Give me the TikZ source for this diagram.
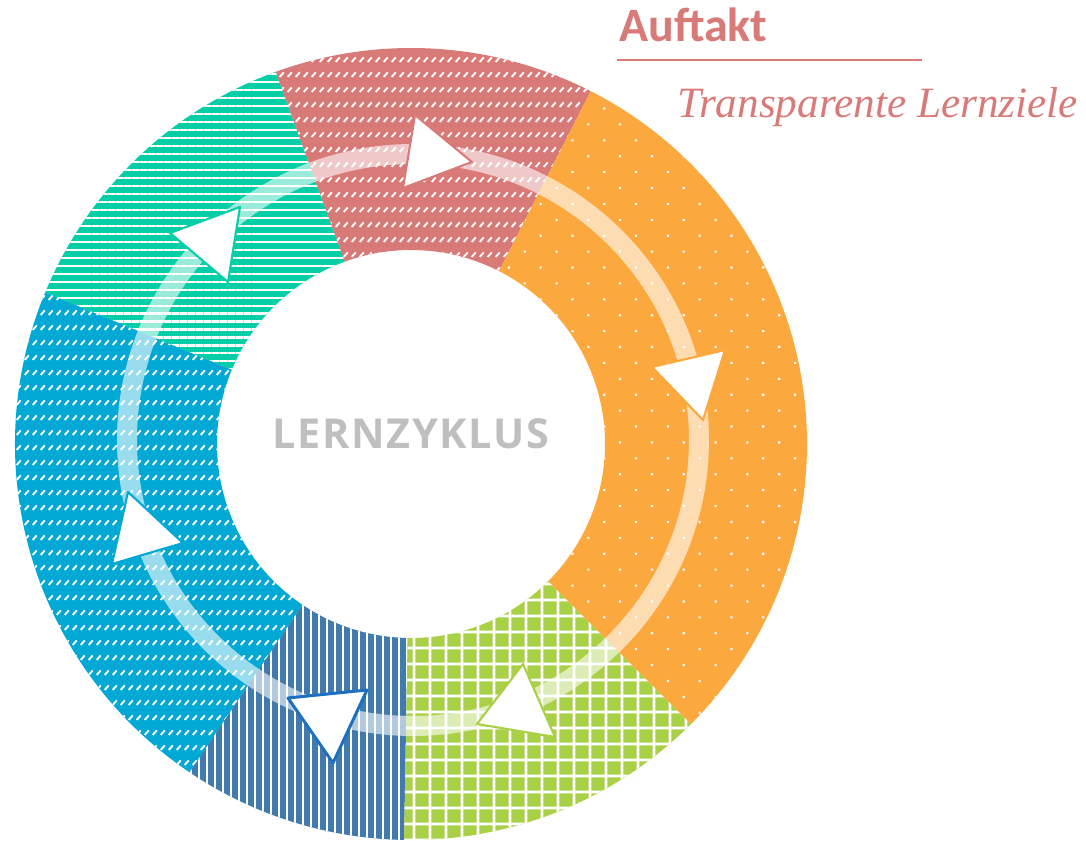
\documentclass[tikz,border=0pt]{standalone}
\usepackage{fontspec}
\setmainfont{Liberation Serif}
\newfontfamily\carlito{Carlito}
\newfontfamily\opensp{Open Sans}[LetterSpace=4]
\usetikzlibrary{patterns.meta,calc}

\definecolor{cRed}{HTML}{D87A78}
\definecolor{cOrange}{HTML}{FBA93F}
\definecolor{cGreen}{HTML}{A9D046}
\definecolor{cDBlue}{HTML}{417BAE}
\definecolor{cLBlue}{HTML}{02A9D4}
\definecolor{cTeal}{HTML}{06CFA7}
\definecolor{cArrowBlue}{HTML}{1F6FC0}
\definecolor{cGray}{HTML}{BFBFBF}

\tikzdeclarepattern{
  name=DDash,
  type=uncolored,
  bounding box={(0pt,0pt) and (4.54pt,8.5pt)},
  tile size={(4.54pt,8.5pt)},
  code={\draw[line width=1.05pt] (0.4pt,0.6pt) -- (2.7pt,3.2pt);}
}

\tikzset{
  seg/.style={preaction={fill=#1}, pattern color=white},
  ring/.style={draw=white, draw opacity=0.6, line width=0.4cm},
  head/.style={fill=white, draw=#1, line width=1.2pt, line join=round},
  lbl/.style={inner sep=0pt}
}

\newcommand\annseg[2]{($(C)+(#1:396)$) arc[start angle=#1, end angle=#2, radius=396]
  -- ($(C)+(#2:194)$) arc[start angle=#2, end angle=#1, radius=194] -- cycle}

\begin{document}
\begin{tikzpicture}[x=0.02cm, y=0.02cm]
\useasboundingbox (0,0) rectangle (1086,840);
\coordinate (C) at (411,396);
\coordinate (RC) at (413,400);

% segments
\path[seg=cRed, pattern=DDash] \annseg{63}{110};
\path[seg=cTeal, pattern={Lines[angle=0, distance=4.54pt, line width=1.2pt]}] \annseg{110}{157.5};
\path[seg=cLBlue, pattern=DDash] \annseg{157.5}{236};
\path[seg=cDBlue, pattern={Lines[angle=90, distance=4.54pt, line width=1.1pt]}] \annseg{236}{269};
\path[seg=cGreen, pattern={Hatch[angle=0, distance=9.07pt, line width=1.5pt]}] \annseg{269}{315};
\path[seg=cOrange, pattern={Dots[angle=45, distance=12.8pt, radius=0.85pt]}] \annseg{315}{423};

% ring
\draw[ring] (RC) circle[radius=286];

% arrowheads
\filldraw[head=cRed] (415,725) -- (472,678) -- (403,652) -- cycle;
\filldraw[head=cOrange] (652,473) -- (725,490) -- (703,420) -- cycle;
\filldraw[head=cGreen] (523,176) -- (555,103) -- (477,116) -- cycle;
\filldraw[head=cArrowBlue, line width=1.7pt] (288,142) -- (367,150) -- (333,77) -- cycle;
\filldraw[head=cLBlue] (128,348) -- (183,297) -- (112,276) -- cycle;
\filldraw[head=cTeal] (240,633) -- (228,558) -- (170,607) -- cycle;

% texts
\node[lbl, anchor=base, font=\opensp\bfseries\fontsize{23.5}{28}\selectfont, text=cGray] (lz) at (411,392) {LERNZYKLUS};
\node[lbl, anchor=base west, font=\carlito\bfseries\fontsize{27.3}{32}\selectfont, text=cRed] (auftakt) at (619,798) {Auftakt};
\coordinate (ruleL) at (617,780);
\coordinate (ruleR) at (922,780);
\draw[cRed, line width=0.9pt] (ruleL) -- (ruleR);
\node[lbl, anchor=base west, font=\itshape\fontsize{24.6}{29}\selectfont, text=cRed] (lernziele) at (677,722) {Transparente Lernziele};
\end{tikzpicture}
\end{document}
